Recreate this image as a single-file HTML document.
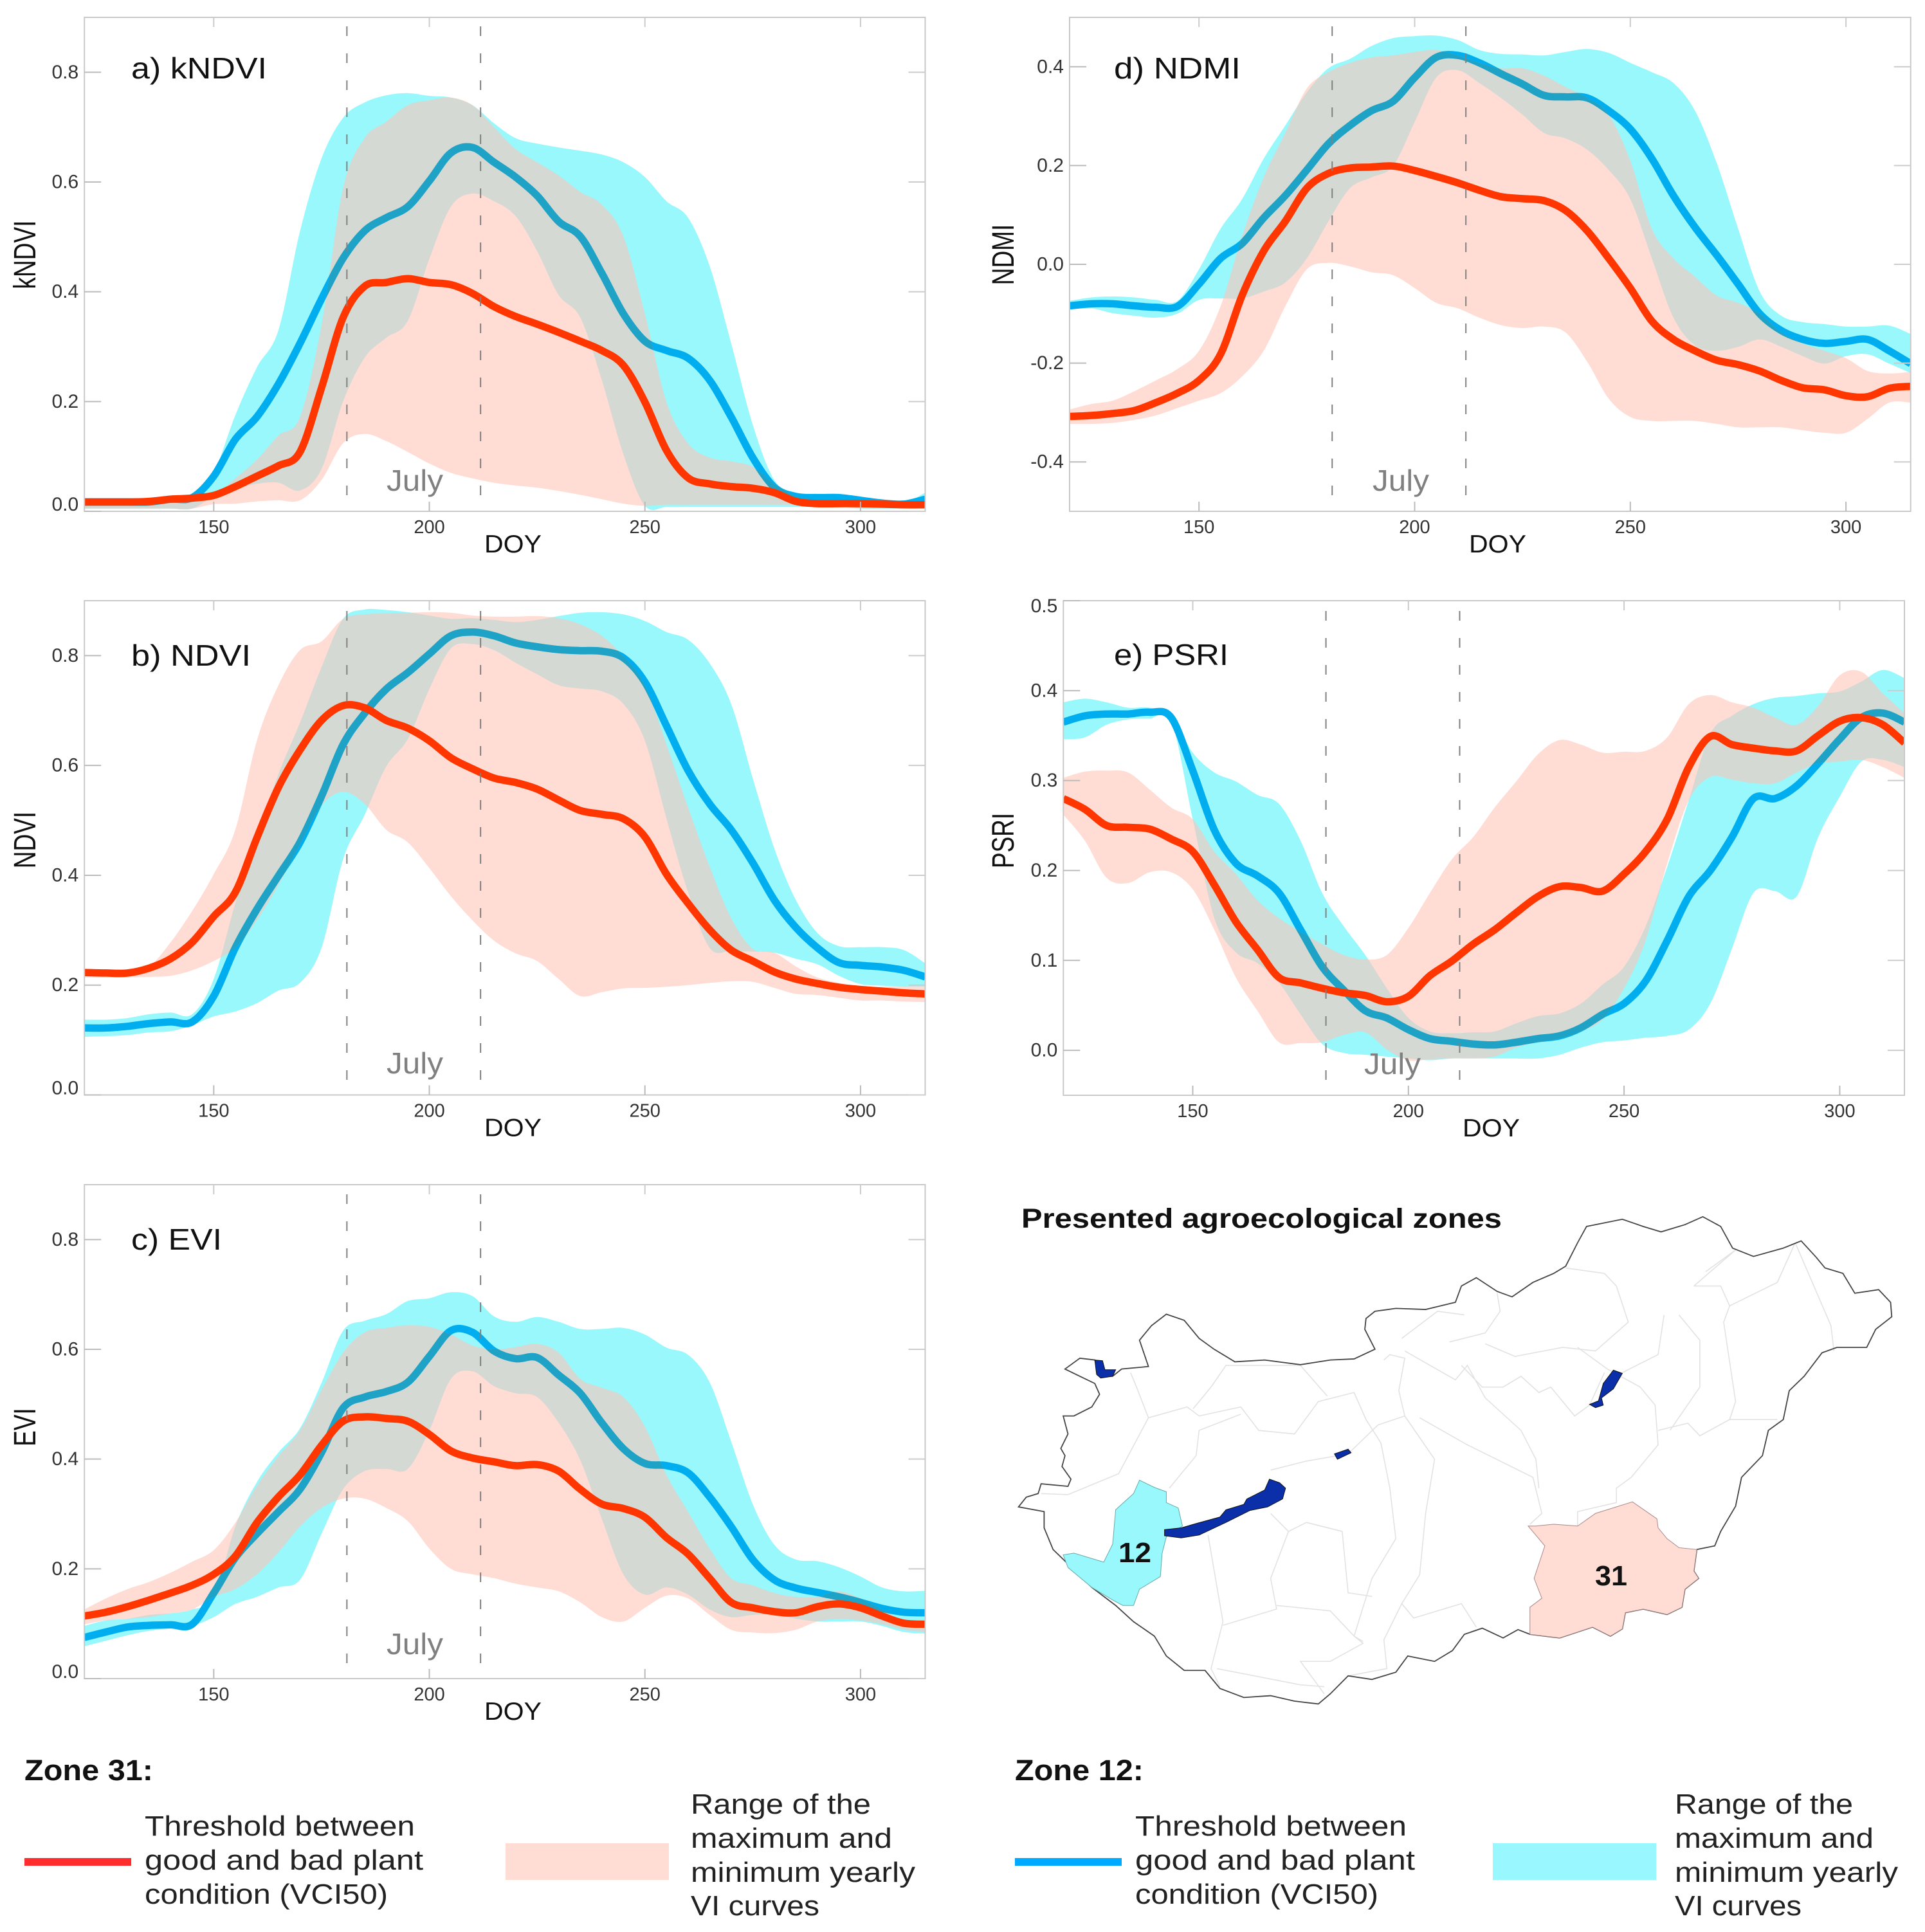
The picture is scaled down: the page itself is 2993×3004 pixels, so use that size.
<!DOCTYPE html>
<html lang="en">
<head>
<meta charset="utf-8">
<title>Vegetation index curves for agroecological zones 12 and 31</title>
<style>
html,body{margin:0;padding:0;background:#fff;}
svg{display:block;font-family:"Liberation Sans",sans-serif;}
</style>
</head>
<body>
<svg id="figure" xmlns="http://www.w3.org/2000/svg" width="2993" height="3004" viewBox="0 0 2993 3004">
<rect x="0" y="0" width="2993" height="3004" fill="#fff"/>

<g id="charts"></g>

<g>
<text x="1588" y="1909" font-size="43" font-weight="bold" fill="#111" textLength="747" lengthAdjust="spacingAndGlyphs">Presented agroecological zones</text>
<g transform="translate(1540,1820) scale(0.9268,0.5612)">
<g fill="none" stroke="#e2e2e2" stroke-width="1.6">
<polyline vector-effect="non-scaling-stroke" points="85,895 130,898 215,840 265,685 245,600 235,560"/>
<polyline vector-effect="non-scaling-stroke" points="265,685 330,655 350,680 420,655 450,720 510,730 550,640 610,615 630,690 655,755 670,880 680,1020 640,1130 610,1290 625,1305"/>
<polyline vector-effect="non-scaling-stroke" points="340,660 370,600 395,540 520,540 565,625"/>
<polyline vector-effect="non-scaling-stroke" points="300,880 345,790 350,720 420,675"/>
<polyline vector-effect="non-scaling-stroke" points="470,830 530,805 600,785 650,705 695,680 685,610 695,520 670,510 660,525"/>
<polyline vector-effect="non-scaling-stroke" points="695,680 745,800 730,950 720,1120 690,1200 660,1300 665,1380 600,1400"/>
<polyline vector-effect="non-scaling-stroke" points="720,685 800,760 910,850 925,950 905,980"/>
<polyline vector-effect="non-scaling-stroke" points="695,500 780,580 800,540 830,630 890,720 915,800 920,880"/>
<polyline vector-effect="non-scaling-stroke" points="770,475 830,450 855,390 850,340"/>
<polyline vector-effect="non-scaling-stroke" points="690,465 750,390 795,400"/>
<polyline vector-effect="non-scaling-stroke" points="830,480 880,515 960,490 1015,500 1070,420 1050,320 1030,285 965,270"/>
<polyline vector-effect="non-scaling-stroke" points="985,490 1035,550 1090,600 1115,650 1120,760 1075,850 1050,880 1050,920 985,945 985,985"/>
<polyline vector-effect="non-scaling-stroke" points="1030,560 1005,650 980,680 940,600 920,615 890,570 860,600 825,600 790,540"/>
<polyline vector-effect="non-scaling-stroke" points="1120,720 1170,700 1190,735 1240,690 1320,690"/>
<polyline vector-effect="non-scaling-stroke" points="1130,400 1120,510 1060,560"/>
<polyline vector-effect="non-scaling-stroke" points="1155,400 1190,470 1190,600 1140,720"/>
<polyline vector-effect="non-scaling-stroke" points="1180,320 1250,220 1200,280"/>
<polyline vector-effect="non-scaling-stroke" points="1180,320 1225,320 1240,375 1320,310 1350,200"/>
<polyline vector-effect="non-scaling-stroke" points="1240,375 1230,420 1250,640 1240,690"/>
<polyline vector-effect="non-scaling-stroke" points="1350,200 1410,430 1415,500"/>
<polyline vector-effect="non-scaling-stroke" points="365,1010 390,1250 370,1380 385,1430"/>
<polyline vector-effect="non-scaling-stroke" points="470,950 500,1000 470,1130 480,1215 390,1260"/>
<polyline vector-effect="non-scaling-stroke" points="500,1000 530,975 590,1000 600,1170 640,1180"/>
<polyline vector-effect="non-scaling-stroke" points="480,1205 570,1220 610,1290 625,1310 570,1360 520,1360 560,1450"/>
<polyline vector-effect="non-scaling-stroke" points="380,1380 520,1425 560,1430"/>
<polyline vector-effect="non-scaling-stroke" points="690,1200 710,1240 790,1200 815,1265"/>
</g>
<polygon vector-effect="non-scaling-stroke" fill="none" stroke="#444" stroke-width="1.8" points="47,932 60,905 80,895 85,868 130,875 135,855 120,820 125,790 118,770 130,730 122,680 140,680 170,655 183,620 175,590 150,570 125,550 150,520 175,525 185,570 205,570 220,550 265,543 250,470 270,430 295,398 325,415 350,465 375,495 410,530 460,525 520,538 570,525 610,522 645,495 628,440 630,410 645,390 680,382 730,385 780,365 790,320 815,297 850,335 875,350 910,310 945,285 965,265 985,200 1000,155 1060,135 1095,155 1125,170 1165,150 1195,128 1225,155 1245,215 1280,238 1330,215 1360,195 1385,240 1400,270 1430,285 1450,340 1490,330 1510,365 1512,405 1485,440 1470,490 1420,490 1395,505 1365,570 1340,610 1330,690 1305,720 1295,790 1260,850 1250,930 1225,1000 1215,1040 1185,1050 1180,1110 1188,1130 1165,1160 1160,1210 1135,1230 1095,1215 1065,1225 1060,1270 1040,1290 1010,1265 955,1295 905,1285 885,1272 860,1295 825,1268 795,1285 775,1330 745,1360 700,1345 680,1390 640,1410 600,1400 570,1450 550,1478 510,1470 470,1455 425,1460 385,1435 360,1385 325,1385 295,1345 275,1290 240,1250 210,1205 170,1155 130,1090 105,1050 90,990 90,945"/>
<polygon vector-effect="non-scaling-stroke" fill="#99f8fc" stroke="#6aa" stroke-width="1" points="250,858 275,878 295,890 295,920 315,935 322,985 295,1015 288,1060 285,1125 250,1160 240,1205 222,1205 205,1190 170,1155 130,1100 122,1065 140,1060 190,1085 205,1035 210,940 240,895"/>
<polygon vector-effect="non-scaling-stroke" fill="#ffdcd4" stroke="#a88" stroke-width="1" points="1077,918 1118,965 1120,990 1135,1020 1155,1045 1185,1050 1180,1110 1188,1130 1165,1160 1160,1210 1135,1230 1095,1215 1065,1225 1060,1270 1040,1290 1010,1265 955,1295 905,1285 905,1210 925,1185 912,1130 930,1040 902,985 915,985 945,980 985,985 1015,950"/>
<polygon vector-effect="non-scaling-stroke" fill="#0a2fa8" stroke="#111" stroke-width="1" points="292,995 320,990 345,978 385,960 395,940 425,925 430,910 460,885 468,855 485,865 495,880 490,910 465,932 435,942 395,975 350,1010 320,1018 292,1012"/>
<polygon vector-effect="non-scaling-stroke" fill="#0a2fa8" stroke="#111" stroke-width="1" points="175,525 188,527 192,552 210,552 205,570 185,575 178,565"/>
<polygon vector-effect="non-scaling-stroke" fill="#0a2fa8" stroke="#111" stroke-width="1" points="577,785 600,772 605,782 582,800"/>
<polygon vector-effect="non-scaling-stroke" fill="#0a2fa8" stroke="#111" stroke-width="1" points="1045,553 1060,562 1045,605 1025,630 1028,650 1015,657 1005,648 1020,638 1028,590"/>
</g>
<text x="1739" y="2429" font-size="44" font-weight="bold" fill="#111" textLength="51" lengthAdjust="spacingAndGlyphs">12</text>
<text x="2480" y="2465" font-size="44" font-weight="bold" fill="#111" textLength="50" lengthAdjust="spacingAndGlyphs">31</text>
</g>

<g fill="#222" font-size="44">
<text x="38" y="2768" font-weight="bold" fill="#111" font-size="45" textLength="200" lengthAdjust="spacingAndGlyphs">Zone 31:</text>
<rect x="38" y="2889" width="166" height="12" fill="#ff2d2d"/>
<text x="225" y="2854" textLength="420" lengthAdjust="spacingAndGlyphs">Threshold between</text>
<text x="225" y="2907" textLength="433" lengthAdjust="spacingAndGlyphs">good and bad plant</text>
<text x="225" y="2960" textLength="378" lengthAdjust="spacingAndGlyphs">condition (VCI50)</text>
<rect x="786" y="2866" width="254" height="57" fill="#ffdcd4"/>
<text x="1074" y="2820" textLength="280" lengthAdjust="spacingAndGlyphs">Range of the</text>
<text x="1074" y="2873" textLength="313" lengthAdjust="spacingAndGlyphs">maximum and</text>
<text x="1074" y="2926" textLength="349" lengthAdjust="spacingAndGlyphs">minimum yearly</text>
<text x="1074" y="2978" textLength="200" lengthAdjust="spacingAndGlyphs">VI curves</text>
</g>

<g fill="#222" font-size="44">
<text x="1578" y="2768" font-weight="bold" fill="#111" font-size="45" textLength="200" lengthAdjust="spacingAndGlyphs">Zone 12:</text>
<rect x="1578" y="2889" width="166" height="12" fill="#00aaff"/>
<text x="1765" y="2854" textLength="422" lengthAdjust="spacingAndGlyphs">Threshold between</text>
<text x="1765" y="2907" textLength="435" lengthAdjust="spacingAndGlyphs">good and bad plant</text>
<text x="1765" y="2960" textLength="378" lengthAdjust="spacingAndGlyphs">condition (VCI50)</text>
<rect x="2321" y="2866" width="254" height="57" fill="#99f8ff"/>
<text x="2604" y="2820" textLength="277" lengthAdjust="spacingAndGlyphs">Range of the</text>
<text x="2604" y="2873" textLength="309" lengthAdjust="spacingAndGlyphs">maximum and</text>
<text x="2604" y="2926" textLength="347" lengthAdjust="spacingAndGlyphs">minimum yearly</text>
<text x="2604" y="2978" textLength="197" lengthAdjust="spacingAndGlyphs">VI curves</text>
</g>
</svg>

<script>
// ---- shared category data ----
const doys = [120,125,130,135,140,145,150,155,160,165,170,175,180,185,190,195,200,205,210,215,220,225,230,235,240,245,250,255,260,265,270,275,280,285,290,295,300,305,310,315];
const xTickLabels = [150,200,250,300];
const julyBounds = [181,212];
const yTicksVeg = [0,0.2,0.4,0.6,0.8];
const yTicksNdmi = [-0.4,-0.2,0,0.2,0.4];
const yTicksPsri = [0,0.1,0.2,0.3,0.4,0.5];

// ---- a) kNDVI ----
const kndviZone12Upper = [.012,.012,.012,.012,.014,.02,.07,.175,.262,.33,.51,.643,.717,.745,.758,.762,.757,.754,.74,.707,.68,.67,.663,.657,.65,.636,.609,.565,.535,.447,.306,.158,.057,.034,.03,.03,.022,.015,.015,.034];
const kndviZone12Lower = [.005,.005,.005,.005,.005,.005,.027,.04,.05,.052,.038,.077,.2,.28,.316,.347,.46,.555,.579,.565,.538,.474,.394,.353,.239,.104,.01,.008,.008,.008,.008,.008,.008,.008,.008,.008,.005,.005,.005,.005];
const kndviZone31Upper = [.012,.012,.012,.014,.018,.022,.03,.06,.094,.138,.172,.34,.589,.68,.71,.74,.749,.754,.74,.7,.66,.636,.612,.582,.559,.501,.36,.199,.124,.098,.091,.081,.05,.027,.015,.012,.012,.012,.012,.012];
const kndviZone31Lower = [.005,.005,.005,.005,.005,.005,.013,.014,.018,.02,.02,.057,.124,.141,.128,.108,.087,.07,.06,.052,.047,.043,.037,.03,.022,.014,.01,.012,.012,.012,.012,.012,.012,.012,.012,.008,.006,.006,.006,.006];
const kndviZone12Vci = [.017,.017,.017,.017,.022,.025,.064,.131,.172,.232,.306,.387,.461,.511,.535,.555,.602,.653,.663,.636,.609,.575,.528,.501,.434,.36,.31,.293,.279,.239,.172,.098,.044,.027,.025,.025,.02,.015,.013,.022];
const kndviZone31Vci = [.017,.017,.017,.018,.022,.024,.029,.045,.064,.083,.108,.225,.353,.41,.417,.424,.417,.413,.397,.373,.355,.341,.326,.31,.293,.266,.199,.111,.061,.05,.045,.042,.034,.018,.014,.014,.014,.013,.012,.012];

// ---- b) NDVI ----
const ndviZone12Upper = [.137,.137,.14,.147,.15,.147,.211,.349,.47,.584,.678,.779,.867,.884,.883,.879,.873,.867,.868,.865,.861,.865,.872,.878,.879,.875,.863,.843,.829,.786,.712,.577,.449,.355,.295,.271,.269,.269,.264,.24];
const ndviZone12Lower = [.106,.107,.109,.114,.116,.127,.143,.152,.167,.19,.204,.268,.429,.51,.598,.648,.739,.813,.821,.81,.787,.766,.746,.74,.735,.712,.645,.503,.369,.268,.262,.261,.259,.248,.238,.217,.202,.199,.197,.197];
const ndviZone31Upper = [.227,.229,.229,.234,.278,.335,.402,.483,.645,.746,.81,.826,.867,.875,.877,.878,.879,.878,.873,.871,.871,.872,.868,.857,.836,.799,.746,.638,.524,.416,.322,.266,.259,.234,.214,.204,.197,.197,.197,.197];
const ndviZone31Lower = [.214,.214,.214,.215,.217,.227,.244,.268,.318,.382,.456,.527,.552,.53,.483,.46,.413,.362,.318,.281,.258,.244,.211,.18,.187,.194,.195,.197,.2,.204,.207,.206,.195,.184,.182,.177,.172,.172,.17,.169];
const ndviZone12Vci = [.122,.122,.125,.13,.133,.133,.18,.268,.338,.399,.46,.544,.638,.695,.739,.769,.803,.836,.843,.836,.823,.816,.811,.809,.808,.796,.752,.672,.591,.53,.483,.423,.355,.305,.268,.241,.236,.233,.227,.215];
const ndviZone31Vci = [.223,.222,.222,.231,.248,.278,.325,.369,.468,.56,.628,.682,.709,.705,.682,.668,.645,.614,.594,.577,.569,.557,.537,.518,.511,.503,.47,.402,.349,.301,.264,.244,.224,.211,.203,.196,.192,.189,.186,.184];

// ---- c) EVI ----
const eviZone12Upper = [.096,.106,.109,.116,.119,.126,.149,.277,.358,.412,.456,.539,.634,.652,.664,.688,.693,.704,.697,.66,.65,.659,.65,.637,.637,.639,.627,.603,.59,.54,.432,.318,.244,.217,.214,.203,.186,.166,.159,.16];
const eviZone12Lower = [.059,.069,.079,.087,.092,.096,.112,.136,.149,.166,.18,.264,.345,.378,.382,.382,.452,.546,.56,.533,.52,.513,.466,.398,.291,.19,.153,.166,.153,.126,.112,.116,.116,.109,.104,.104,.104,.096,.085,.082];
const eviZone31Upper = [.126,.146,.163,.176,.193,.213,.234,.284,.351,.405,.452,.526,.594,.631,.639,.644,.641,.627,.607,.6,.604,.61,.594,.546,.53,.513,.459,.371,.304,.237,.183,.17,.156,.149,.149,.159,.146,.126,.106,.099];
const eviZone31Lower = [.099,.106,.109,.112,.119,.126,.149,.163,.19,.23,.277,.311,.328,.328,.311,.287,.237,.2,.19,.183,.173,.166,.159,.139,.112,.104,.129,.151,.146,.116,.089,.084,.083,.089,.104,.109,.106,.099,.089,.085];
const eviZone12Vci = [.075,.085,.094,.097,.098,.099,.156,.22,.264,.304,.345,.412,.493,.513,.523,.54,.587,.634,.631,.597,.583,.585,.553,.52,.466,.419,.392,.388,.375,.331,.277,.217,.18,.165,.157,.149,.139,.128,.121,.12];
const eviZone31Vci = [.114,.121,.131,.143,.156,.17,.19,.223,.284,.331,.371,.425,.469,.477,.474,.469,.445,.415,.402,.395,.388,.39,.378,.345,.318,.31,.294,.257,.227,.183,.139,.129,.122,.12,.131,.136,.129,.114,.101,.099];

// ---- d) NDMI ----
const ndmiZone12Upper = [-.074,-.067,-.065,-.067,-.072,-.074,-.01,.072,.132,.214,.281,.348,.397,.416,.442,.458,.462,.463,.454,.434,.426,.425,.423,.43,.436,.428,.408,.389,.367,.311,.206,.072,-.055,-.104,-.117,-.121,-.126,-.126,-.124,-.141];
const ndmiZone12Lower = [-.091,-.089,-.099,-.104,-.108,-.1,-.072,-.069,-.069,-.055,-.037,.012,.087,.154,.176,.199,.288,.378,.393,.367,.337,.303,.266,.255,.232,.191,.132,.012,-.108,-.164,-.175,-.167,-.152,-.167,-.186,-.201,-.186,-.182,-.201,-.22];
const ndmiZone31Upper = [-.294,-.283,-.276,-.257,-.235,-.212,-.175,-.085,.057,.176,.266,.356,.389,.408,.419,.423,.43,.434,.423,.408,.397,.397,.382,.359,.337,.303,.21,.072,.012,-.025,-.063,-.078,-.1,-.138,-.16,-.175,-.19,-.216,-.221,-.218];
const ndmiZone31Lower = [-.323,-.323,-.321,-.315,-.306,-.291,-.276,-.261,-.227,-.175,-.085,-.01,.003,-.004,-.016,-.022,-.048,-.078,-.089,-.108,-.123,-.129,-.126,-.138,-.197,-.272,-.309,-.317,-.317,-.317,-.323,-.33,-.33,-.33,-.336,-.341,-.341,-.313,-.28,-.28];
const ndmiZone12Vci = [-.084,-.08,-.08,-.084,-.087,-.085,-.04,.012,.042,.094,.139,.191,.244,.281,.311,.33,.378,.419,.423,.408,.386,.365,.342,.339,.337,.311,.274,.214,.139,.075,.019,-.04,-.1,-.134,-.152,-.16,-.156,-.152,-.175,-.201];
const ndmiZone31Vci = [-.308,-.306,-.302,-.296,-.28,-.261,-.235,-.182,-.063,.027,.087,.154,.184,.195,.197,.199,.19,.178,.165,.15,.137,.133,.129,.109,.068,.012,-.048,-.115,-.152,-.175,-.194,-.203,-.216,-.235,-.25,-.254,-.266,-.268,-.251,-.247];

// ---- e) PSRI ----
const psriZone12Upper = [.387,.391,.387,.381,.381,.372,.331,.309,.299,.284,.274,.233,.175,.138,.106,.069,.036,.021,.019,.02,.021,.03,.038,.041,.052,.073,.093,.138,.204,.278,.352,.372,.385,.392,.394,.397,.399,.41,.423,.414];
const psriZone12Lower = [.346,.348,.362,.368,.369,.366,.257,.147,.109,.097,.075,.04,.007,-.003,-.005,-.007,-.009,-.011,-.009,-.009,-.009,-.009,-.009,-.005,.003,.009,.011,.014,.016,.023,.052,.113,.175,.177,.171,.237,.282,.321,.323,.315];
const psriZone31Upper = [.303,.31,.311,.309,.29,.27,.257,.221,.196,.167,.147,.132,.118,.106,.101,.106,.136,.175,.212,.237,.27,.299,.329,.345,.34,.331,.332,.333,.348,.385,.395,.387,.381,.37,.362,.383,.417,.421,.397,.375];
const psriZone31Lower = [.262,.233,.192,.186,.198,.198,.179,.134,.081,.044,.009,.008,.009,.017,.02,.001,-.011,-.01,-.009,-.009,-.007,.003,.009,.013,.021,.034,.069,.122,.208,.278,.304,.301,.297,.297,.309,.319,.321,.323,.315,.303];
const psriZone12Vci = [.365,.372,.374,.374,.376,.37,.311,.245,.208,.194,.175,.134,.093,.067,.044,.036,.023,.013,.01,.007,.006,.009,.013,.016,.025,.04,.052,.077,.122,.171,.2,.237,.28,.28,.294,.319,.346,.37,.375,.365];
const psriZone31Vci = [.28,.268,.25,.248,.246,.235,.221,.184,.143,.112,.081,.075,.069,.064,.061,.054,.06,.083,.099,.118,.134,.153,.171,.182,.181,.177,.196,.221,.257,.315,.349,.34,.336,.333,.333,.35,.366,.37,.362,.342];

const NS = 'http://www.w3.org/2000/svg';
const root = document.getElementById('charts');

function make(tag, parent, attrs, text) {
  const el = document.createElementNS(NS, tag);
  for (const k in attrs) el.setAttribute(k, attrs[k]);
  if (text !== undefined) el.textContent = text;
  parent.appendChild(el);
  return el;
}

// Catmull-Rom spline segments through screen points
function splineSegs(pts) {
  let d = '';
  for (let i = 0; i < pts.length - 1; i++) {
    const p0 = pts[Math.max(i - 1, 0)], p1 = pts[i], p2 = pts[i + 1], p3 = pts[Math.min(i + 2, pts.length - 1)];
    const c1x = p1[0] + (p2[0] - p0[0]) / 6, c1y = p1[1] + (p2[1] - p0[1]) / 6;
    const c2x = p2[0] - (p3[0] - p1[0]) / 6, c2y = p2[1] - (p3[1] - p1[1]) / 6;
    d += 'C' + c1x.toFixed(1) + ' ' + c1y.toFixed(1) + ' ' + c2x.toFixed(1) + ' ' + c2y.toFixed(1) + ' ' + p2[0].toFixed(1) + ' ' + p2[1].toFixed(1);
  }
  return d;
}
function linePath(xs, ys, sx, sy) {
  const pts = xs.map((x, i) => [sx(x), sy(ys[i])]);
  return 'M' + pts[0][0].toFixed(1) + ' ' + pts[0][1].toFixed(1) + splineSegs(pts);
}
function bandPath(xs, up, lo, sx, sy) {
  const a = xs.map((x, i) => [sx(x), sy(up[i])]);
  const b = xs.map((x, i) => [sx(x), sy(lo[i])]).reverse();
  return 'M' + a[0][0].toFixed(1) + ' ' + a[0][1].toFixed(1) + splineSegs(a) +
         'L' + b[0][0].toFixed(1) + ' ' + b[0][1].toFixed(1) + splineSegs(b) + 'Z';
}

function drawPanel(p) {
  const sx = d => p.left + (d - 120) * (p.right - p.left) / 195;
  const sy = v => p.bottom - (v - p.yMin) * (p.bottom - p.top) / (p.yMax - p.yMin);

  const g = make('g', root, {});
  
  

  const defs = make('defs', g, {});
  const plotClip = make('clipPath', defs, {id: p.key + '-plot-clip'});
  make('rect', plotClip, {x: p.left, y: p.top, width: p.right - p.left, height: p.bottom - p.top});
  const pinkD = bandPath(doys, p.pinkUp, p.pinkLo, sx, sy);
  const pinkClip = make('clipPath', defs, {id: p.key + '-pink-clip'});
  make('path', pinkClip, {d: pinkD});

  const plot = make('g', g, {'clip-path': 'url(#' + p.key + '-plot-clip)'});

  const cyan = make('path', plot, {d: bandPath(doys, p.cyanUp, p.cyanLo, sx, sy), fill: '#99f8fc'});
  
  

  const blueD = linePath(doys, p.blue, sx, sy);
  const blue = make('path', plot, {d: blueD, fill: 'none', stroke: '#00aeef', 'stroke-width': 11.5, 'stroke-linejoin': 'round'});
  
  

  const pink = make('path', plot, {d: pinkD, fill: 'rgb(255,195,182)', 'fill-opacity': 0.59});
  
  

  const blueWrap = make('g', plot, {'clip-path': 'url(#' + p.key + '-pink-clip)'});
  const blueDark = make('path', blueWrap, {d: blueD, fill: 'none', stroke: '#1ea3c6', 'stroke-width': 11.5, 'stroke-linejoin': 'round'});
  
  

  const red = make('path', plot, {d: linePath(doys, p.red, sx, sy), fill: 'none', stroke: '#ff3600', 'stroke-width': 11.5, 'stroke-linejoin': 'round'});
  
  

  julyBounds.forEach(d => {
    const dash = make('line', g, {x1: sx(d) - 0.8, x2: sx(d) - 0.8, y1: p.dashTop, y2: p.bottom, stroke: '#808080', 'stroke-width': 2, 'stroke-dasharray': '15 27'});
    
    
  });

  const frame = make('rect', g, {x: p.left, y: p.top, width: p.right - p.left, height: p.bottom - p.top, fill: 'none', stroke: '#c9c9c9', 'stroke-width': 2});
  
  

  xTickLabels.forEach(t => {
    const x = sx(t);
    make('line', g, {x1: x, x2: x, y1: p.bottom, y2: p.bottom - 15, stroke: '#bbb', 'stroke-width': 2});
    make('line', g, {x1: x, x2: x, y1: p.top, y2: p.top + 15, stroke: '#ccc', 'stroke-width': 2});
    const lab = make('text', g, {x: x, y: p.bottom + 34, 'text-anchor': 'middle', 'font-size': 29, fill: '#333'}, String(t));
    
    
  });

  p.yTicks.forEach(t => {
    const y = sy(t);
    make('line', g, {x1: p.left, x2: p.left + 26, y1: y, y2: y, stroke: '#bbb', 'stroke-width': 2});
    make('line', g, {x1: p.right, x2: p.right - 26, y1: y, y2: y, stroke: '#ccc', 'stroke-width': 2});
    let base = y + 9.5;
    if (t === p.yMin) base = y - 1;
    if (t === p.yMax) base = y + 18;
    const lab = make('text', g, {x: p.left - 9, y: base, 'text-anchor': 'end', 'font-size': 30, fill: '#333'}, t.toFixed(1));
    
    
  });

  const yt = make('text', g, {transform: 'translate(' + p.yTitleX + ',' + p.yTitleY + ') rotate(-90) scale(1,1.3)', 'text-anchor': 'middle', 'font-size': 37, fill: '#111'}, p.name);
  
  

  const xt = make('text', g, {x: p.doyX, y: p.bottom + 64, 'font-size': 39, fill: '#111', textLength: 89, lengthAdjust: 'spacingAndGlyphs'}, 'DOY');
  
  

  const title = make('text', g, {x: p.titleX, y: p.titleY, 'font-size': 46, fill: '#111', textLength: p.titleW, lengthAdjust: 'spacingAndGlyphs'}, p.title);
  
  

  const july = make('text', g, {x: p.julyX, y: p.julyY, 'font-size': 46, fill: '#808080', textLength: 88, lengthAdjust: 'spacingAndGlyphs'}, 'July');
  
  
}

drawPanel({key:'kndvi', name:'kNDVI', title:'a) kNDVI', titleX:204, titleY:122, titleW:211,
  left:131.2, right:1438.5, top:27, bottom:795, yMin:0, yMax:0.9, yTicks:yTicksVeg, dashTop:41,
  yTitleX:55, yTitleY:396, doyX:753, julyX:601, julyY:763,
  cyanUp:kndviZone12Upper, cyanLo:kndviZone12Lower, pinkUp:kndviZone31Upper, pinkLo:kndviZone31Lower, blue:kndviZone12Vci, red:kndviZone31Vci});

drawPanel({key:'ndvi', name:'NDVI', title:'b) NDVI', titleX:204, titleY:1035, titleW:186,
  left:131.2, right:1438.5, top:934, bottom:1702.5, yMin:0, yMax:0.9, yTicks:yTicksVeg, dashTop:950,
  yTitleX:55, yTitleY:1306, doyX:753, julyX:601, julyY:1669,
  cyanUp:ndviZone12Upper, cyanLo:ndviZone12Lower, pinkUp:ndviZone31Upper, pinkLo:ndviZone31Lower, blue:ndviZone12Vci, red:ndviZone31Vci});

drawPanel({key:'evi', name:'EVI', title:'c) EVI', titleX:204, titleY:1943, titleW:141,
  left:131.2, right:1438.5, top:1842, bottom:2610, yMin:0, yMax:0.9, yTicks:yTicksVeg, dashTop:1857,
  yTitleX:55, yTitleY:2219, doyX:753, julyX:601, julyY:2572,
  cyanUp:eviZone12Upper, cyanLo:eviZone12Lower, pinkUp:eviZone31Upper, pinkLo:eviZone31Lower, blue:eviZone12Vci, red:eviZone31Vci});

drawPanel({key:'ndmi', name:'NDMI', title:'d) NDMI', titleX:1732, titleY:122, titleW:197,
  left:1663, right:2970.7, top:27, bottom:795, yMin:-0.5, yMax:0.5, yTicks:yTicksNdmi, dashTop:41,
  yTitleX:1576, yTitleY:396, doyX:2284, julyX:2134, julyY:763,
  cyanUp:ndmiZone12Upper, cyanLo:ndmiZone12Lower, pinkUp:ndmiZone31Upper, pinkLo:ndmiZone31Lower, blue:ndmiZone12Vci, red:ndmiZone31Vci});

drawPanel({key:'psri', name:'PSRI', title:'e) PSRI', titleX:1732, titleY:1034, titleW:178,
  left:1653.3, right:2961, top:934, bottom:1703, yMin:-0.05, yMax:0.5, yTicks:yTicksPsri, dashTop:950,
  yTitleX:1576, yTitleY:1307, doyX:2274, julyX:2121, julyY:1670,
  cyanUp:psriZone12Upper, cyanLo:psriZone12Lower, pinkUp:psriZone31Upper, pinkLo:psriZone31Lower, blue:psriZone12Vci, red:psriZone31Vci});
</script>
</body>
</html>
